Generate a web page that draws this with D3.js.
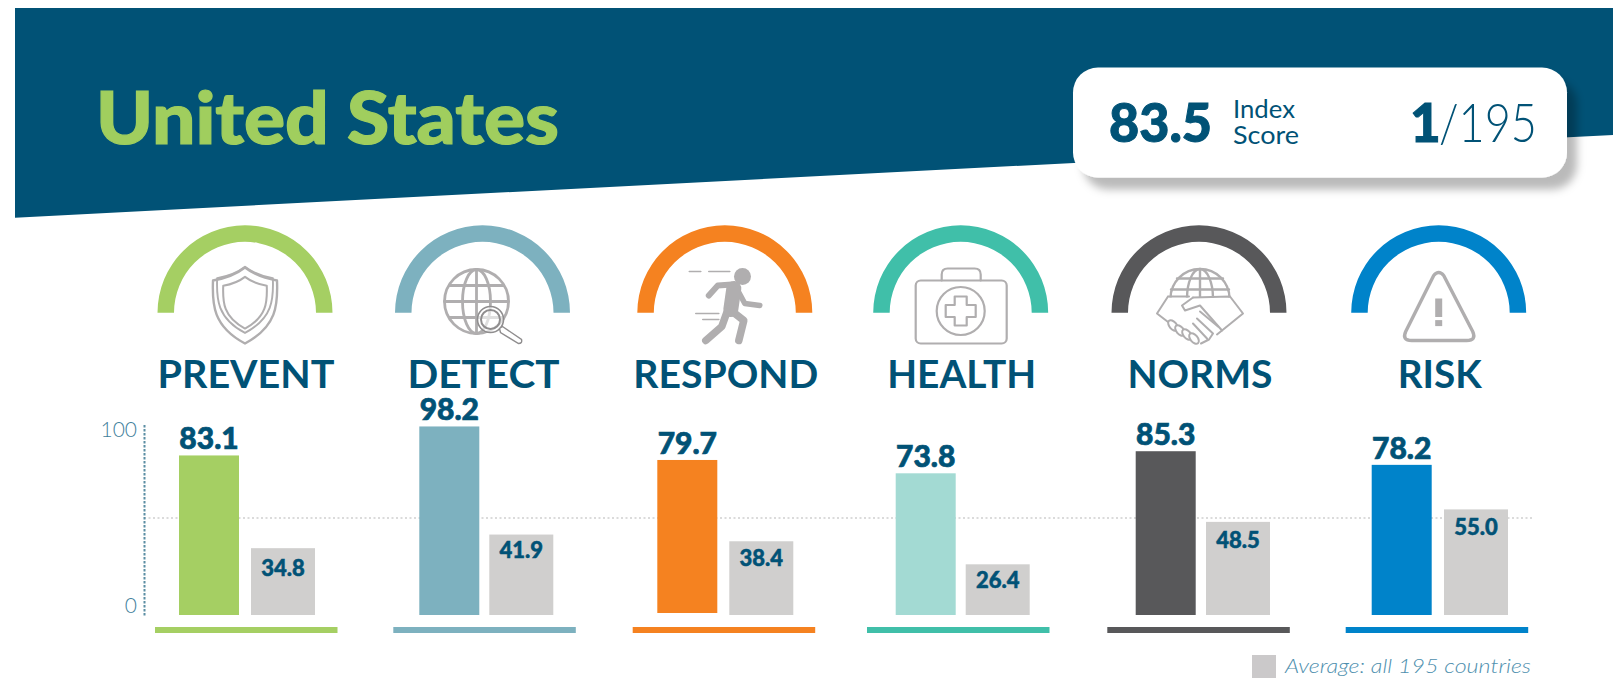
<!DOCTYPE html>
<html>
<head>
<meta charset="utf-8">
<script src="https://cdnjs.cloudflare.com/ajax/libs/d3/7.8.5/d3.min.js"></script>
<style>
  html, body { margin: 0; padding: 0; background: #fff; }
  svg { display: block; }
  text { font-family: Lato, "Open Sans", sans-serif; }
</style>
</head>
<body>
<svg id="canvas" width="1613" height="693"></svg>
<script>
// data
let categories = ['PREVENT', 'DETECT', 'RESPOND', 'HEALTH', 'NORMS', 'RISK']
let countryValues = [83.1, 98.2, 79.7, 73.8, 85.3, 78.2]
let averageValues = [34.8, 41.9, 38.4, 26.4, 48.5, 55.0]
let axisTicks = [0, 100]
let midLine = [50]
let country = 'United States'
let indexScore = '83.5'
let rank = '1'
let rankOf = '/195'
let legendText = 'Average: all 195 countries'

// colours
let arcColors = ['#a5cf63', '#7db1bf', '#f58220', '#40bfa9', '#58585a', '#0083ca']
let barColors = ['#a5cf63', '#7db1bf', '#f58220', '#a3dad3', '#58585a', '#0083ca']
let navy = '#015276'
let grey = '#d0cfce'
let iconGrey = '#b0aeaf'

// layout, the panels are not evenly spaced in the original
let barLefts = [179, 419.3, 657.3, 895.7, 1135.7, 1371.7]
let avgLefts = [251, 489.3, 729.3, 965.7, 1206, 1444]
let arcCentres = [245, 482.5, 724.8, 960.7, 1199, 1438.7]
let ruleLefts = [155, 393.3, 632.7, 867, 1107.3, 1345.7]
let labelWidths = [177, 152, 185, 149, 145, 84]
let barLift = [0, 0, 2, 0, 0, 0]
let avgLabelDy = [28, 23.5, 24.5, 24, 26, 25.5]

let canvas = d3.select('#canvas')
let defs = canvas.append('defs')

let shadow = defs.append('filter').attr('id', 'cardShadow')
  .attr('x', '-5%').attr('y', '-20%').attr('width', '110%').attr('height', '150%')
shadow.append('feDropShadow')
  .attr('dx', 10).attr('dy', 12).attr('stdDeviation', 4)
  .attr('flood-color', '#000').attr('flood-opacity', 0.27)

let y = d3.scaleLinear().domain([0, 100]).range([615, 423])
let xBar = d3.scaleOrdinal(categories, barLefts)
let xAvg = d3.scaleOrdinal(categories, avgLefts)
let xArc = d3.scaleOrdinal(categories, arcCentres)
let xRule = d3.scaleOrdinal(categories, ruleLefts)
let barWidth = 60
let avgWidth = 64

let rows = categories.map((name, i) => {
  return {
    name: name,
    value: countryValues[i],
    average: averageValues[i],
    arcColor: arcColors[i],
    barColor: barColors[i],
    labelWidth: labelWidths[i],
    lift: barLift[i],
    avgDy: avgLabelDy[i]
  }
})

// header band
canvas.append('path')
  .attr('d', 'M15,8 H1613 V135 L15,217.7 Z')
  .attr('fill', navy)

canvas.append('text')
  .attr('x', 96).attr('y', 144)
  .attr('font-size', 72).attr('font-weight', 900)
  .attr('textLength', 463).attr('lengthAdjust', 'spacingAndGlyphs')
  .attr('fill', '#a0ce5e')
  .attr('stroke', '#a0ce5e').attr('stroke-width', 1.2)
  .text(country)

// score card
canvas.append('rect')
  .attr('x', 1073).attr('y', 67.5).attr('width', 494).attr('height', 110).attr('rx', 25)
  .attr('fill', '#fff')
  .attr('filter', 'url(#cardShadow)')

canvas.append('text')
  .attr('x', 1109).attr('y', 142)
  .attr('font-size', 53).attr('font-weight', 900)
  .attr('textLength', 103).attr('lengthAdjust', 'spacingAndGlyphs')
  .attr('fill', navy)
  .attr('stroke', navy).attr('stroke-width', 1)
  .text(indexScore)
canvas.append('text')
  .attr('x', 1233).attr('y', 118)
  .attr('font-size', 25)
  .attr('textLength', 62).attr('lengthAdjust', 'spacingAndGlyphs')
  .attr('fill', navy)
  .text('Index')
canvas.append('text')
  .attr('x', 1233).attr('y', 144)
  .attr('font-size', 25)
  .attr('textLength', 66).attr('lengthAdjust', 'spacingAndGlyphs')
  .attr('fill', navy)
  .text('Score')
canvas.append('text')
  .attr('x', 1410).attr('y', 142)
  .attr('font-size', 53).attr('font-weight', 900)
  .attr('fill', navy)
  .attr('stroke', navy).attr('stroke-width', 1)
  .text(rank)
canvas.append('text')
  .attr('x', 1439).attr('y', 142)
  .attr('font-size', 53).attr('font-weight', 300)
  .attr('textLength', 98).attr('lengthAdjust', 'spacingAndGlyphs')
  .attr('fill', navy)
  .text(rankOf)

// arcs over the icons
let arc = d3.arc()
  .innerRadius(71)
  .outerRadius(87.5)
  .startAngle(-Math.PI / 2)
  .endAngle(Math.PI / 2)

canvas.selectAll('.gauge')
  .data(rows)
  .enter()
  .append('path')
  .attr('class', 'gauge')
  .attr('d', arc)
  .attr('transform', (d) => 'translate(' + xArc(d.name) + ',312.8)')
  .attr('fill', (d) => d.arcColor)

// icons, drawn around the centre of each arc
let lineIcon = (g, d, width) => {
  return g.append('path').attr('d', d)
    .attr('fill', 'none')
    .attr('stroke', iconGrey)
    .attr('stroke-width', width)
    .attr('stroke-linecap', 'round')
    .attr('stroke-linejoin', 'round')
}

let shieldPath = 'M0,-45 C9,-38 20,-34 32,-32 C33,-8 32,14 0,31 C-32,14 -33,-8 -32,-32 C-20,-34 -9,-38 0,-45 Z'

let drawShield = (g) => {
  lineIcon(g, shieldPath, 2.4)
  lineIcon(g, shieldPath, 2.2).attr('transform', 'translate(0,-6.5) scale(.87)')
  lineIcon(g, shieldPath, 3).attr('transform', 'translate(0,-5) scale(.68)')
}

let drawGlobe = (g) => {
  let globe = g.append('g').attr('transform', 'translate(-6,-11)')
  globe.append('circle').attr('r', 32).attr('fill', 'none').attr('stroke', iconGrey).attr('stroke-width', 2.8)
  globe.append('ellipse').attr('rx', 14).attr('ry', 32).attr('fill', 'none').attr('stroke', iconGrey).attr('stroke-width', 2.8)
  lineIcon(globe, 'M0,-32 V32 M-32,0 H32 M-27,-16 H27 M-27,16 H27', 2.8)
  g.append('circle').attr('cx', 8).attr('cy', 7).attr('r', 13)
    .attr('fill', 'rgba(255,255,255,.6)').attr('stroke', '#8f8d8e').attr('stroke-width', 1.6)
  g.append('circle').attr('cx', 8).attr('cy', 7).attr('r', 9.5)
    .attr('fill', 'none').attr('stroke', '#8f8d8e').attr('stroke-width', 2)
  g.append('path').attr('d', 'M17,16 L20,14 L39,27 Q40,31 36,31 L18,20 Z')
    .attr('fill', '#fff').attr('stroke', '#8f8d8e').attr('stroke-width', 1.4)
}

let drawRunner = (g) => {
  g.append('circle').attr('cx', 17.7).attr('cy', -36).attr('r', 8.5).attr('fill', iconGrey)
  lineIcon(g, 'M-35.5,-41 H-24 M-16,-41 H5', 1.6)
  lineIcon(g, 'M-29,1 H-6 M-22,7 H-6', 1.6)
  lineIcon(g, 'M-16,-17 L-7,-27 L7,-28', 6)
  lineIcon(g, 'M13,-22 L20,-9 L35,-7', 5.5)
  lineIcon(g, 'M9,-24 L6,-3', 15)
  lineIcon(g, 'M5,-3 L19,8 L14,28', 7.5)
  lineIcon(g, 'M2,0 L-3,14 L-19,28', 7.5)
}

let drawKit = (g) => {
  g.append('rect').attr('x', -45).attr('y', -32).attr('width', 91).attr('height', 63).attr('rx', 5)
    .attr('fill', 'none').attr('stroke', iconGrey).attr('stroke-width', 2.2)
  lineIcon(g, 'M-19,-32 V-38 Q-19,-44 -13,-44 H14 Q20,-44 20,-38 V-32', 2.2)
  g.append('circle').attr('cy', -1.5).attr('r', 24).attr('fill', 'none').attr('stroke', iconGrey).attr('stroke-width', 2.2)
  lineIcon(g, 'M-6,-16 H6 V-7.5 H15 V4.5 H6 V13 H-6 V4.5 H-15 V-7.5 H-6 Z', 2.2)
}

let drawHands = (g) => {
  let clipId = 'domeClip'
  defs.append('clipPath').attr('id', clipId)
    .append('rect').attr('x', -40).attr('y', -50).attr('width', 80).attr('height', 35)
  let dome = g.append('g').attr('clip-path', 'url(#' + clipId + ')')
    .append('g').attr('transform', 'translate(1,-14)')
  dome.append('circle').attr('r', 29.5).attr('fill', 'none').attr('stroke', iconGrey).attr('stroke-width', 2.4)
  dome.append('ellipse').attr('rx', 13).attr('ry', 29.5).attr('fill', 'none').attr('stroke', iconGrey).attr('stroke-width', 2.4)
  lineIcon(dome, 'M0,-29 V0 M-23,-20 H23 M-29,-9 H29', 2.4)
  // cuffs and palms
  lineIcon(g, 'M-31,-16 L-42,1 L-29,11 M31,-16 L44,1 L23,18 M-31,-16 H-10 M-6,-15 L31,-16', 2)
  // thumb over the other hand
  lineIcon(g, 'M-6,-15 L-17,-7 L-14,-2 L1,-7 L23,18 L18,22', 2)
  // fingers of the right hand
  lineIcon(g, 'M1,-1 L19,14 M-2,6 L14,21 M-6,11 L8,26 M14,21 L10,27 L2,31', 2)
  // fingers of the left hand
  for (let [cx, cy] of [[-26, 13], [-19, 18], [-12, 22], [-5, 26]]) {
    g.append('ellipse').attr('cx', cx).attr('cy', cy).attr('rx', 3.6).attr('ry', 6.2)
      .attr('transform', 'rotate(-40 ' + cx + ' ' + cy + ')')
      .attr('fill', '#fff').attr('stroke', iconGrey).attr('stroke-width', 2)
  }
}

let drawWarning = (g) => {
  lineIcon(g, 'M-5,-37 Q0,-43 5,-37 L34,19 Q38,28 28,28 H-27 Q-37,28 -33,19 Z', 3.4)
  g.append('rect').attr('x', -3.5).attr('y', -14).attr('width', 7).attr('height', 18.5).attr('fill', iconGrey)
  g.append('rect').attr('x', -3.5).attr('y', 7.6).attr('width', 7).attr('height', 6).attr('fill', iconGrey)
}

let iconDrawers = [drawShield, drawGlobe, drawRunner, drawKit, drawHands, drawWarning]
categories.forEach((name, i) => {
  let g = canvas.append('g')
    .attr('class', 'icon')
    .attr('transform', 'translate(' + xArc(name) + ',312.5)')
  iconDrawers[i](g)
})

// category names
canvas.selectAll('.category')
  .data(rows)
  .enter()
  .append('text')
  .attr('class', 'category')
  .attr('x', (d) => xArc(d.name) + 1)
  .attr('y', 388)
  .attr('text-anchor', 'middle')
  .attr('font-size', 38.5)
  .attr('font-weight', 700)
  .attr('textLength', (d) => d.labelWidth)
  .attr('lengthAdjust', 'spacingAndGlyphs')
  .attr('fill', navy)
  .text((d) => d.name)

// dotted line at 50
canvas.selectAll('.mid')
  .data(midLine)
  .enter()
  .append('line')
  .attr('class', 'mid')
  .attr('x1', 144).attr('x2', 1534)
  .attr('y1', (d) => y(d) - 1).attr('y2', (d) => y(d) - 1)
  .attr('stroke', '#cfcfcf')
  .attr('stroke-width', 1.5)
  .attr('stroke-dasharray', '2 2.5')

// axis
let axis = canvas.append('g')
  .attr('transform', 'translate(144,0)')
  .call(d3.axisLeft(y).tickValues(axisTicks).tickSize(0).tickPadding(7))
axis.select('.domain')
  .attr('stroke', '#5b8ea3')
  .attr('stroke-width', 2)
  .attr('stroke-dasharray', '2.5 1.5')
axis.selectAll('text')
  .attr('font-family', 'Lato')
  .attr('font-size', 21)
  .attr('font-weight', 300)
  .attr('fill', '#3f7f9c')
  .attr('dy', (d) => d === 0 ? '-0.13em' : '0.62em')

// bars
canvas.selectAll('.tile')
  .data(rows)
  .enter()
  .append('rect')
  .attr('class', 'tile')
  .attr('x', (d) => xBar(d.name))
  .attr('y', (d) => y(d.value) - d.lift)
  .attr('width', barWidth)
  .attr('height', (d) => y(0) - y(d.value))
  .attr('fill', (d) => d.barColor)

canvas.selectAll('.avg')
  .data(rows)
  .enter()
  .append('rect')
  .attr('class', 'avg')
  .attr('x', (d) => xAvg(d.name))
  .attr('y', (d) => y(d.average))
  .attr('width', avgWidth)
  .attr('height', (d) => y(0) - y(d.average))
  .attr('fill', grey)

canvas.selectAll('.value')
  .data(rows)
  .enter()
  .append('text')
  .attr('class', 'value')
  .attr('x', (d) => xBar(d.name) + barWidth / 2)
  .attr('y', (d) => y(d.value) - d.lift - 6)
  .attr('text-anchor', 'middle')
  .attr('font-size', 30)
  .attr('font-weight', 900)
  .attr('fill', navy)
  .attr('stroke', navy).attr('stroke-width', 0.7)
  .text((d) => d.value.toFixed(1))

canvas.selectAll('.avgValue')
  .data(rows)
  .enter()
  .append('text')
  .attr('class', 'avgValue')
  .attr('x', (d) => xAvg(d.name) + avgWidth / 2)
  .attr('y', (d) => y(d.average) + d.avgDy)
  .attr('text-anchor', 'middle')
  .attr('font-size', 22)
  .attr('font-weight', 900)
  .attr('fill', navy)
  .attr('stroke', navy).attr('stroke-width', 0.5)
  .text((d) => d.average.toFixed(1))

// coloured rules under each panel
canvas.selectAll('.rule')
  .data(rows)
  .enter()
  .append('rect')
  .attr('class', 'rule')
  .attr('x', (d) => xRule(d.name))
  .attr('y', 627)
  .attr('width', 182.5)
  .attr('height', 6)
  .attr('fill', (d) => d.arcColor)

// legend
canvas.append('rect')
  .attr('x', 1252).attr('y', 655).attr('width', 24).attr('height', 23)
  .attr('fill', '#cbc9ca')
canvas.append('text')
  .attr('x', 1285).attr('y', 673)
  .attr('font-size', 20)
  .attr('font-style', 'italic')
  .attr('font-weight', 300)
  .attr('textLength', 246).attr('lengthAdjust', 'spacingAndGlyphs')
  .attr('fill', '#4e8fae')
  .text(legendText)
</script>
</body>
</html>
